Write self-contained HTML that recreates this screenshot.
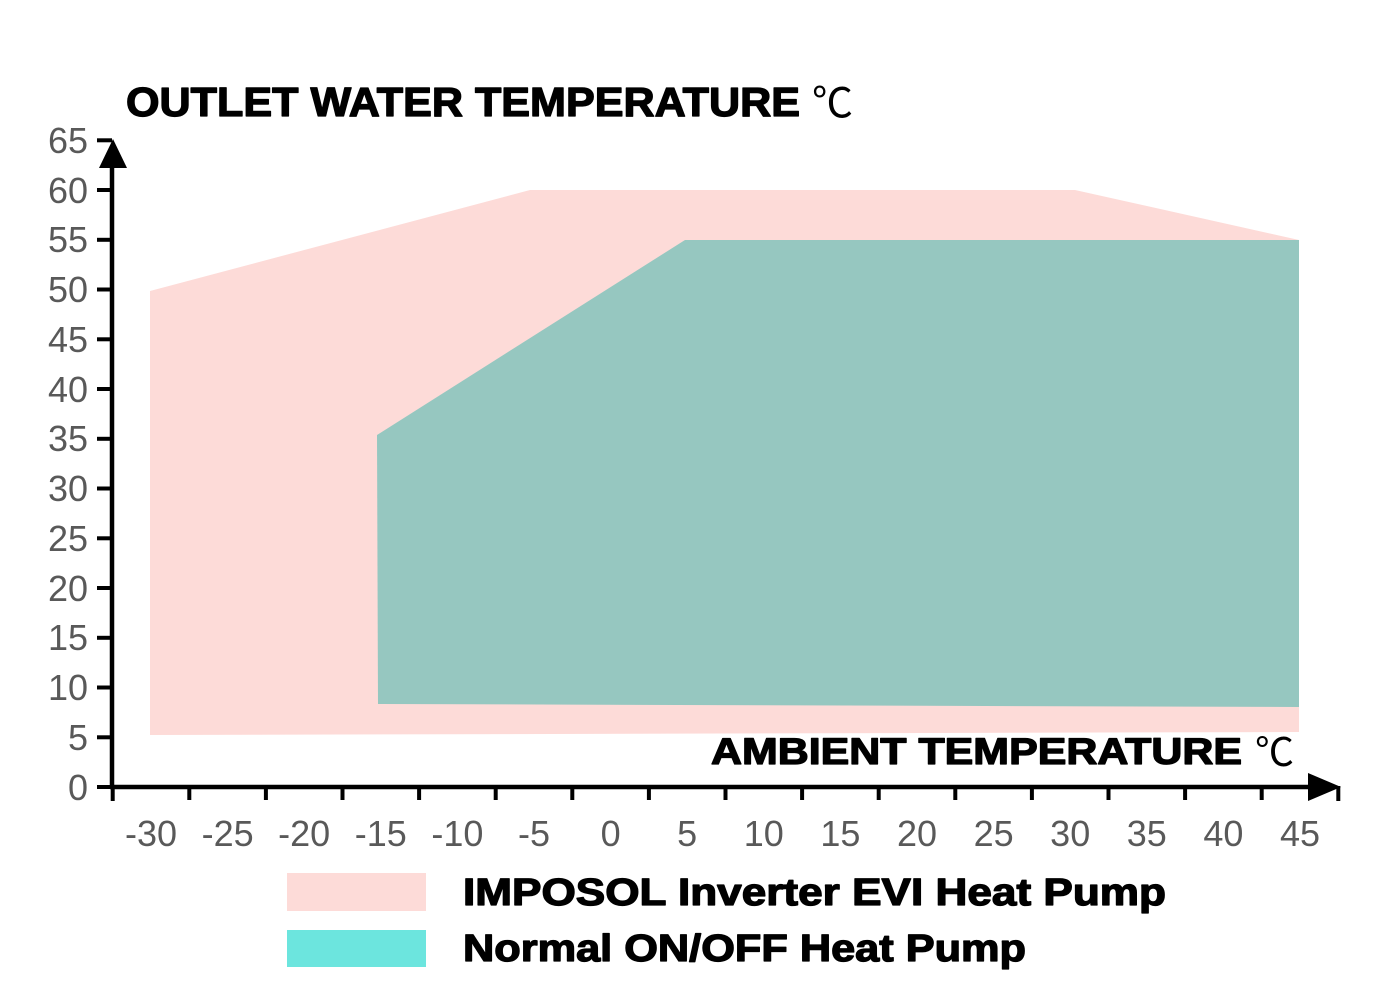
<!DOCTYPE html>
<html>
<head>
<meta charset="utf-8">
<style>
  html,body{margin:0;padding:0;background:#ffffff;}
  svg{display:block;}
  .num{font-family:"Liberation Sans",Arial,sans-serif;font-size:36px;fill:#595959;}
  .bold{font-family:"Liberation Sans",Arial,sans-serif;font-weight:bold;fill:#000;stroke:#000;stroke-width:1.3;stroke-linejoin:round;}
  .deg{font-family:"Noto Sans CJK SC","DejaVu Sans",sans-serif;font-weight:normal;fill:#000;}
</style>
</head>
<body>
<svg width="1400" height="1000" viewBox="0 0 1400 1000" xmlns="http://www.w3.org/2000/svg">
  <rect x="0" y="0" width="1400" height="1000" fill="#ffffff"/>

  <!-- Pink area (Inverter EVI) -->
  <polygon points="150,291 530,190 1075,190 1299,240 1299,732 150,735" fill="#fddbd8"/>
  <!-- Teal area (ON/OFF) -->
  <polygon points="377,435 685,240 1299,240 1299,707 378,704" fill="#96c7c0"/>

  <!-- Title -->
  <text class="bold" x="126" y="116" font-size="41" textLength="674" lengthAdjust="spacingAndGlyphs">OUTLET WATER TEMPERATURE</text>
  <text class="deg" x="812" y="117" font-size="41">℃</text>

  <!-- Ambient label -->
  <text class="bold" x="711" y="764" font-size="37" textLength="531" lengthAdjust="spacingAndGlyphs">AMBIENT TEMPERATURE</text>
  <text class="deg" x="1255" y="766" font-size="39">℃</text>

  <!-- Y axis -->
  <line x1="112" y1="789" x2="112" y2="162" stroke="#000" stroke-width="4.5"/>
  <polygon points="99,168 127,168 113,139" fill="#000"/>
  <g stroke="#000" stroke-width="4">
    <line x1="97" y1="787" x2="112" y2="787"/>
    <line x1="97" y1="737.3" x2="112" y2="737.3"/>
    <line x1="97" y1="687.5" x2="112" y2="687.5"/>
    <line x1="97" y1="637.8" x2="112" y2="637.8"/>
    <line x1="97" y1="588" x2="112" y2="588"/>
    <line x1="97" y1="538.3" x2="112" y2="538.3"/>
    <line x1="97" y1="488.5" x2="112" y2="488.5"/>
    <line x1="97" y1="438.8" x2="112" y2="438.8"/>
    <line x1="97" y1="389" x2="112" y2="389"/>
    <line x1="97" y1="339.3" x2="112" y2="339.3"/>
    <line x1="97" y1="289.5" x2="112" y2="289.5"/>
    <line x1="97" y1="239.8" x2="112" y2="239.8"/>
    <line x1="97" y1="190" x2="112" y2="190"/>
    <line x1="97" y1="140.3" x2="112" y2="140.3"/>
  </g>
  <g class="num" text-anchor="end">
    <text x="88" y="800">0</text>
    <text x="88" y="750">5</text>
    <text x="88" y="700">10</text>
    <text x="88" y="650">15</text>
    <text x="88" y="601">20</text>
    <text x="88" y="551">25</text>
    <text x="88" y="501">30</text>
    <text x="88" y="451">35</text>
    <text x="88" y="402">40</text>
    <text x="88" y="352">45</text>
    <text x="88" y="302">50</text>
    <text x="88" y="252">55</text>
    <text x="88" y="203">60</text>
    <text x="88" y="153">65</text>
  </g>

  <!-- X axis -->
  <line x1="110" y1="787" x2="1312" y2="787" stroke="#000" stroke-width="4.5"/>
  <polygon points="1308,773 1308,801 1341,787" fill="#000"/>
  <g stroke="#000" stroke-width="4">
    <line x1="112.7" y1="786" x2="112.7" y2="801"/>
    <line x1="189.3" y1="786" x2="189.3" y2="800"/>
    <line x1="265.9" y1="786" x2="265.9" y2="800"/>
    <line x1="342.5" y1="786" x2="342.5" y2="800"/>
    <line x1="419.1" y1="786" x2="419.1" y2="800"/>
    <line x1="495.7" y1="786" x2="495.7" y2="800"/>
    <line x1="572.3" y1="786" x2="572.3" y2="800"/>
    <line x1="648.9" y1="786" x2="648.9" y2="800"/>
    <line x1="725.5" y1="786" x2="725.5" y2="800"/>
    <line x1="802.1" y1="786" x2="802.1" y2="800"/>
    <line x1="878.7" y1="786" x2="878.7" y2="800"/>
    <line x1="955.3" y1="786" x2="955.3" y2="800"/>
    <line x1="1031.9" y1="786" x2="1031.9" y2="800"/>
    <line x1="1108.5" y1="786" x2="1108.5" y2="800"/>
    <line x1="1185.1" y1="786" x2="1185.1" y2="800"/>
    <line x1="1261.7" y1="786" x2="1261.7" y2="800"/>
    <line x1="1338.3" y1="786" x2="1338.3" y2="801"/>
  </g>
  <g class="num" text-anchor="middle">
    <text x="151" y="846">-30</text>
    <text x="227.6" y="846">-25</text>
    <text x="304.2" y="846">-20</text>
    <text x="380.8" y="846">-15</text>
    <text x="457.4" y="846">-10</text>
    <text x="534" y="846">-5</text>
    <text x="610.6" y="846">0</text>
    <text x="687.2" y="846">5</text>
    <text x="763.8" y="846">10</text>
    <text x="840.4" y="846">15</text>
    <text x="917" y="846">20</text>
    <text x="993.6" y="846">25</text>
    <text x="1070.2" y="846">30</text>
    <text x="1146.8" y="846">35</text>
    <text x="1223.4" y="846">40</text>
    <text x="1300" y="846">45</text>
  </g>

  <!-- Legend -->
  <rect x="287" y="873" width="139" height="38" fill="#fddbd8"/>
  <rect x="287" y="930" width="139" height="37" fill="#6ce5de"/>
  <text class="bold" x="463" y="905" font-size="38" textLength="703" lengthAdjust="spacingAndGlyphs">IMPOSOL Inverter EVI Heat Pump</text>
  <text class="bold" x="463" y="961" font-size="38" textLength="563" lengthAdjust="spacingAndGlyphs">Normal ON/OFF Heat Pump</text>
</svg>
</body>
</html>
